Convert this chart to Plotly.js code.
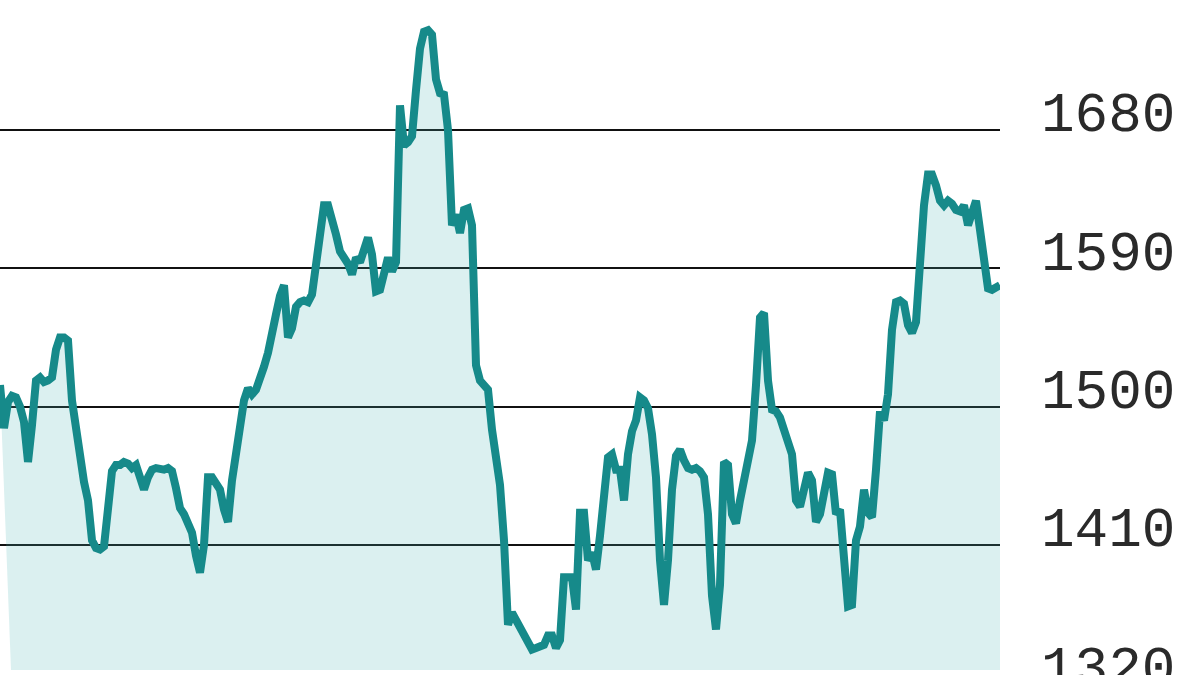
<!DOCTYPE html>
<html>
<head>
<meta charset="utf-8">
<script src="https://cdn.plot.ly/plotly-3.0.1.min.js"></script>
<style>
html, body { margin: 0; padding: 0; overflow: hidden; background: #ffffff; }
#chart { width: 1200px; height: 720px; }
</style>
</head>
<body>
<div id="chart"></div>
<script>
// Daily closing values (one trading year)
const closes = [
  1514,1486,1503,1507,1506,1500,1490,1464,1488,1517,
  1519,1516,1517,1519,1537,1545,1545,1543,1504,1484,
  1464,1451,1439,1413,1408,1407,1409,1439,1458,1462,
  1462,1464,1463,1460,1462,1454,1446,1454,1459,1460,
  1459,1459,1460,1458,1447,1434,1430,1423,1418,1403,
  1392,1410,1454,1454,1450,1446,1433,1425,1452,1472,
  1489,1504,1512,1508,1511,1517,1526,1535,1545,1560,
  1572,1579,1545,1551,1565,1568,1569,1568,1573,1590,
  1612,1631,1631,1623,1612,1601,1597,1593,1586,1597,
  1594,1602,1610,1599,1575,1576,1586,1597,1588,1594,
  1696,1670,1672,1676,1706,1733,1744,1745,1742,1713,
  1704,1703,1680,1618,1625,1613,1628,1629,1618,1527,
  1517,1513,1511,1485,1464,1449,1413,1358,1366,1361,
  1356,1352,1345,1342,1343,1344,1345,1351,1351,1343,
  1348,1389,1389,1389,1368,1431,1431,1400,1405,1394,
  1416,1444,1467,1469,1459,1459,1439,1469,1484,1491,
  1506,1504,1499,1482,1454,1400,1371,1400,1446,1468,
  1472,1465,1460,1459,1460,1458,1454,1430,1377,1355,
  1384,1464,1462,1430,1424,1439,1453,1462,1478,1514,
  1558,1561,1517,1498,1497,1493,1486,1478,1469,1439,
  1435,1446,1457,1452,1425,1430,1444,1457,1456,1430,
  1433,1403,1370,1371,1413,1422,1446,1431,1428,1459,
  1497,1491,1508,1550,1568,1569,1567,1553,1548,1555,
  1595,1631,1651,1651,1644,1634,1631,1634,1632,1628,
  1627,1631,1618,1628,1634,1615,1594,1577,1576,1578,
  1579
];
const days = closes.map((_, i) => i);

// Floor of the shaded area (value level and the day span it covers)
const floorDays = [2.75, closes.length - 1];
const floorValues = [1328.7, 1328.7];

// Axis tick labels
const tickValues = [1320, 1410, 1500, 1590, 1680];
const tickLabels = ['1320', '1410', '1500', '1590', '1680'];

const traces = [
  {
    x: floorDays, y: floorValues, type: 'scatter', mode: 'lines',
    line: { width: 0, color: 'rgba(0,0,0,0)' }, hoverinfo: 'skip', showlegend: false
  },
  {
    x: days, y: closes, type: 'scatter', mode: 'lines',
    line: { color: '#168a8a', width: 8, shape: 'linear' },
    fill: 'tonexty', fillcolor: 'rgba(75,180,180,0.2)', showlegend: false
  }
];

const layout = {
  width: 1200, height: 720,
  margin: { l: 0, r: 200, t: 0, b: 6, pad: 0 },
  paper_bgcolor: '#ffffff', plot_bgcolor: '#ffffff',
  showlegend: false,
  xaxis: { visible: false, range: [0, closes.length - 1], fixedrange: true },
  yaxis: {
    range: [1300, 1764.6],
    side: 'right',
    tickmode: 'array', tickvals: tickValues, ticktext: tickLabels,
    showgrid: true, gridcolor: '#111111', gridwidth: 2,
    zeroline: false, showline: false, ticks: '',
    ticklabelposition: 'outside top',
    ticklabelstandoff: 40,
    ticklabelshift: 21,
    tickfont: { family: 'Liberation Mono, DejaVu Sans Mono, monospace', size: 56, color: '#2a2a2a' },
    fixedrange: true
  }
};

Plotly.newPlot('chart', traces, layout, { displayModeBar: false, staticPlot: true });
</script>
</body>
</html>
